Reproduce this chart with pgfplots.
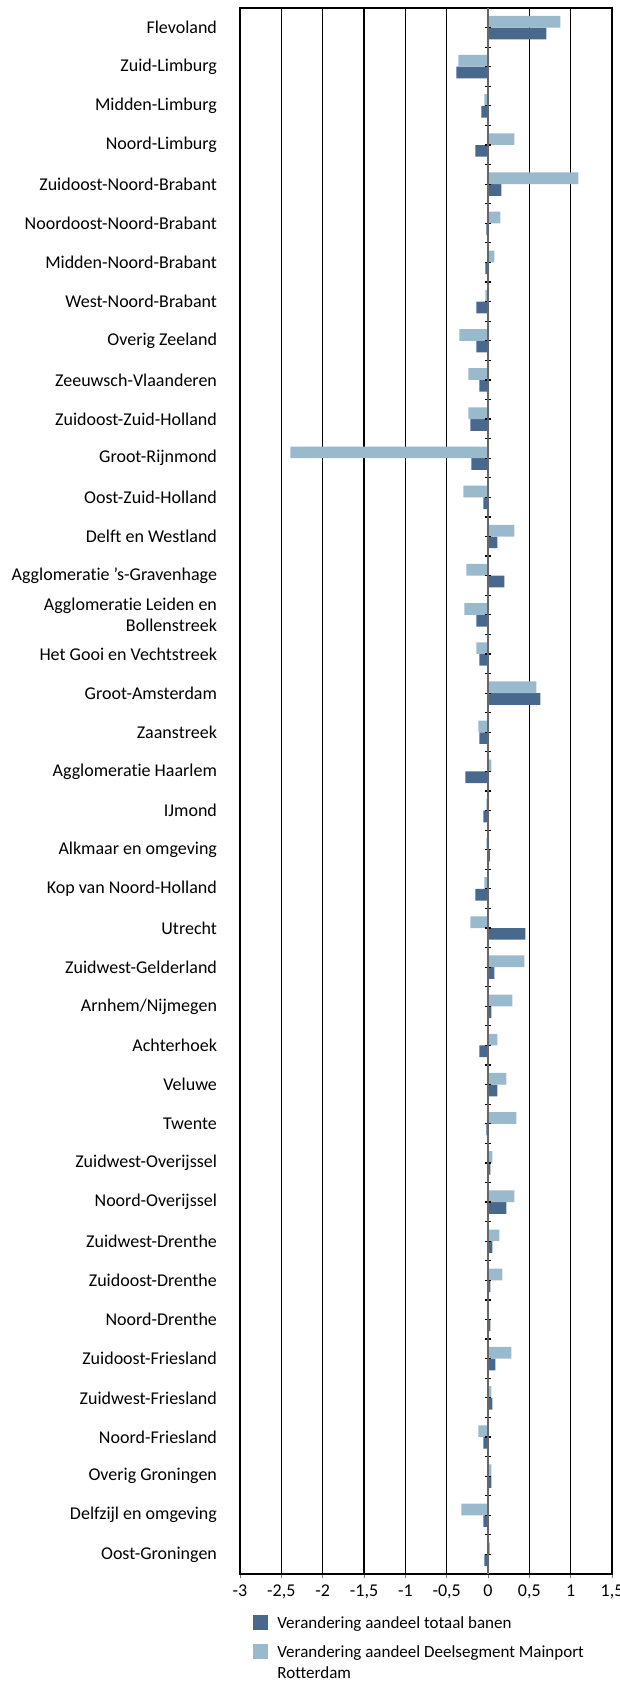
\documentclass[border=0pt]{standalone}
\usepackage{fontspec}
\setmainfont{Carlito}[Ligatures=NoCommon]
\usepackage{pgfplots}
\usepackage{pgfplotstable}
\pgfplotsset{compat=1.18}
\definecolor{darkbar}{RGB}{73,104,142}
\definecolor{lightbar}{RGB}{153,185,205}
\pgfplotstableread{
y dark light
39 0.706 0.875
38 -0.383 -0.359
37 -0.080 -0.044
36 -0.153 0.318
35 0.161 1.093
34 -0.020 0.149
33 -0.032 0.077
32 -0.141 -0.032
31 -0.141 -0.347
30 -0.105 -0.238
29 -0.214 -0.238
28 -0.202 -2.391
27 -0.056 -0.298
26 0.113 0.318
25 0.198 -0.262
24 -0.141 -0.286
23 -0.105 -0.141
22 0.633 0.585
21 -0.105 -0.117
20 -0.274 0.040
19 -0.056 -0.020
18 0.024 -0.020
17 -0.153 -0.044
16 0.452 -0.214
15 0.077 0.440
14 0.040 0.294
13 -0.105 0.113
12 0.113 0.222
11 -0.020 0.343
10 0.028 0.052
9 0.222 0.318
8 0.052 0.137
7 0.028 0.173
6 0.028 -0.008
5 0.089 0.282
4 0.052 0.040
3 -0.056 -0.117
2 0.040 0.040
1 -0.056 -0.323
0 -0.044 0.024
}\datatable
\begin{document}
\begin{tikzpicture}[font=\fontsize{9}{10.5}\selectfont]
\useasboundingbox (0,0) rectangle (310pt,842pt);
\begin{axis}[
  at={(120pt,55pt)}, anchor=south west,
  scale only axis, width=186pt, height=783pt,
  xmin=-3, xmax=1.5, ymin=-0.5, ymax=39.5,
  xtick={-3,-2.5,...,1.5},
  xticklabel style={/pgf/number format/.cd, use comma, assume math mode=true},
  xtick pos=bottom, xtick align=outside, major tick length=2pt,
  xmajorgrids, grid style={black, line width=0.6pt},
  axis line style={black, line width=0.6pt},
  ytick={0,...,39},
  ytick style={draw=none},
  yticklabel style={align=right, xshift=-6pt},
  yticklabels={Oost-Groningen, Delfzijl en omgeving, Overig Groningen, Noord-Friesland, Zuidwest-Friesland, Zuidoost-Friesland, Noord-Drenthe, Zuidoost-Drenthe, Zuidwest-Drenthe, Noord-Overijssel, Zuidwest-Overijssel, Twente, Veluwe, Achterhoek, Arnhem/Nijmegen, Zuidwest-Gelderland, Utrecht, Kop van Noord-Holland, Alkmaar en omgeving, IJmond, Agglomeratie Haarlem, Zaanstreek, Groot-Amsterdam, Het Gooi en Vechtstreek, {Agglomeratie Leiden en\\Bollenstreek}, Agglomeratie ’s-Gravenhage, Delft en Westland, Oost-Zuid-Holland, Groot-Rijnmond, Zuidoost-Zuid-Holland, Zeeuwsch-Vlaanderen, Overig Zeeland, West-Noord-Brabant, Midden-Noord-Brabant, Noordoost-Noord-Brabant, Zuidoost-Noord-Brabant, Noord-Limburg, Midden-Limburg, Zuid-Limburg, Flevoland},
  xbar, bar width=5.85pt,
  legend style={at={(0.035,-0.026)}, anchor=north west, draw=none, fill=none,
    font=\fontsize{8.5}{10.5}\selectfont,
    cells={anchor=base west, align=left}, row sep=6pt, column sep=4.5pt,
    inner sep=0pt, nodes={inner sep=0pt}},
]
\addplot[fill=darkbar, draw=none, bar shift=-2.93pt,
  legend image code/.code={\fill[darkbar] (0pt,-0.75pt) rectangle (7.5pt,6.75pt);}]
  table[x=dark, y=y] {\datatable};
\addlegendentry{Verandering aandeel totaal banen}
\addplot[fill=lightbar, draw=none, bar shift=2.93pt,
  legend image code/.code={\fill[lightbar] (0pt,9.75pt) rectangle (7.5pt,17.25pt);}]
  table[x=light, y=y] {\datatable};
\addlegendentry{Verandering aandeel Deelsegment Mainport\\Rotterdam}
\end{axis}
\begin{axis}[
  at={(120pt,55pt)}, anchor=south west,
  scale only axis, width=186pt, height=783pt,
  xmin=-3, xmax=1.5, ymin=-0.5, ymax=39.5,
  axis x line=none, axis y line=center,
  axis line style={-, black!60, line width=0.9pt},
  ytick={-0.5,0,...,39.5}, yticklabels={},
  ytick style={black, line width=0.6pt},
  tick align=center, major tick length=2.8pt,
]
\end{axis}
\end{tikzpicture}
\end{document}
